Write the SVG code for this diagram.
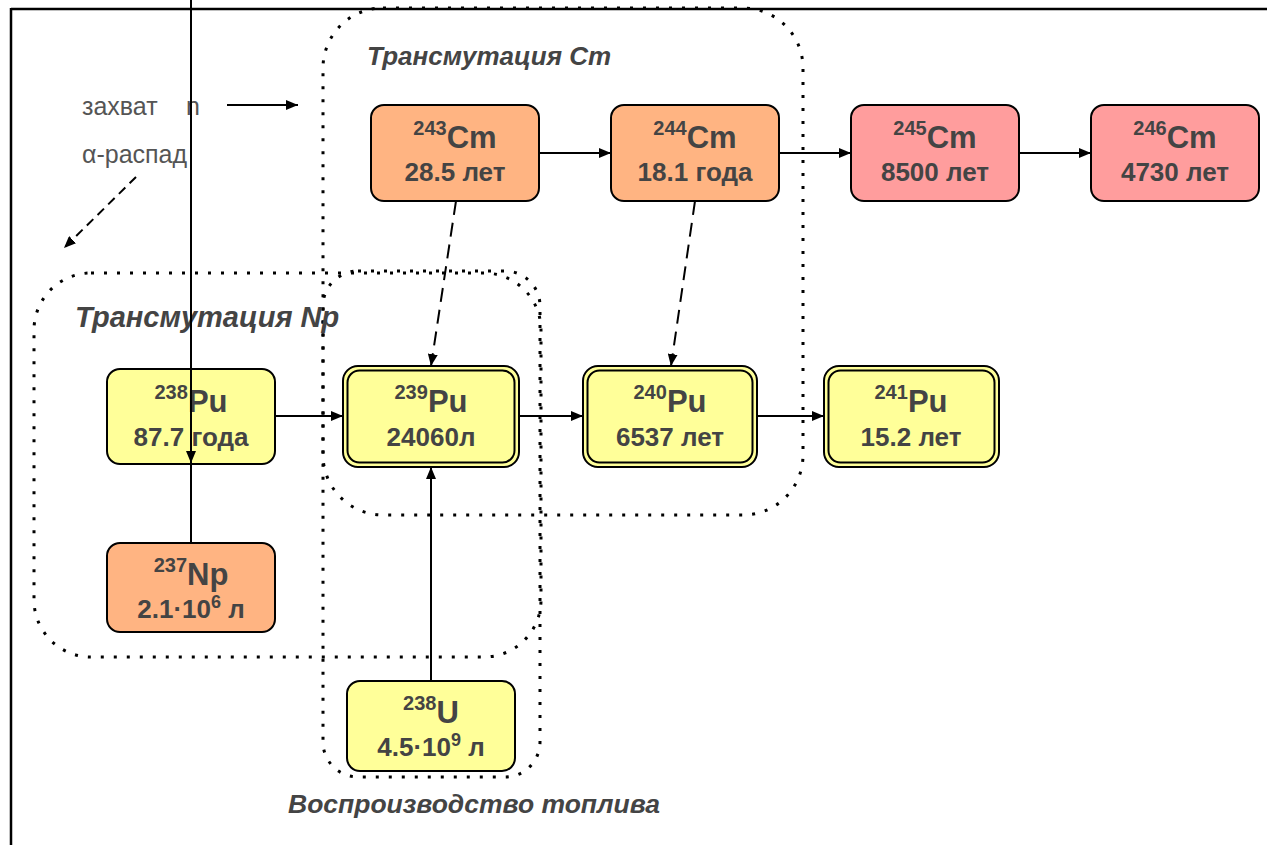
<svg xmlns="http://www.w3.org/2000/svg" width="1267" height="845" viewBox="0 0 1267 845">
<style>
  .node { stroke: #000; stroke-width: 2; }
  .peach { fill: #FFB482; }
  .pink { fill: #FF9D9D; }
  .yellow { fill: #FFFF99; }
  .inner { fill: none; stroke: #000; stroke-width: 2; }
  .lbl { font-family: "Liberation Sans", Arial, sans-serif; font-weight: bold; fill: #444; text-anchor: middle; }
  .sym { font-size: 31px; }
  .sup { font-size: 20px; }
  .life { font-size: 26px; }
  .sup2 { font-size: 18px; }
  .title { font-family: "Liberation Sans", Arial, sans-serif; font-weight: bold; font-style: italic; fill: #444; }
  .legend { font-family: "Liberation Sans", Arial, sans-serif; font-size: 25px; fill: #555; }
  .dots { fill: none; stroke: #000; stroke-width: 3; stroke-dasharray: 3 10; }
  .edge { fill: none; stroke: #000; stroke-width: 2; }
  .dash { stroke-dasharray: 14 8; }
  .dash2 { stroke-dasharray: 9 6; }
</style>
<defs>
  <marker id="ah" viewBox="0 0 12 10" refX="12" refY="5" markerWidth="12" markerHeight="10" markerUnits="userSpaceOnUse" orient="auto">
    <path d="M0,0 L12,5 L0,10 Z" fill="#000"/>
  </marker>
</defs>
<rect width="1267" height="845" fill="#fff"/>

<!-- frame -->
<g id="frame">
  <line x1="11" y1="9" x2="1267" y2="9" stroke="#000" stroke-width="2.5"/>
  <line x1="11" y1="8" x2="11" y2="845" stroke="#000" stroke-width="2.5"/>
</g>

<!-- dotted grouping areas -->
<g id="groups">
  <rect class="dots" x="323" y="8" width="480" height="507" rx="60"/>
  <rect class="dots" x="34" y="273" width="507" height="384" rx="57"/>
  <rect class="dots" x="323" y="271" width="217" height="506" rx="35"/>
  <text class="title" x="367" y="65" font-size="26">Трансмутация Cm</text>
  <text class="title" x="75" y="327" font-size="29">Трансмутация Np</text>
  <text class="title" x="288" y="813" font-size="26.5">Воспроизводство топлива</text>
</g>

<!-- legend -->
<g id="legend">
  <text class="legend" x="82" y="115">захват</text>
  <text class="legend" x="186" y="115">n</text>
  <text class="legend" x="82" y="163">α-распад</text>
  <line class="edge" x1="227" y1="105" x2="298" y2="105" marker-end="url(#ah)"/>
  <line class="edge dash2" x1="136" y1="177" x2="64" y2="248" marker-end="url(#ah)"/>
</g>

<!-- nodes -->
<g id="cm243">
  <rect class="node peach" x="371" y="105" width="168" height="96" rx="13"/>
  <text class="lbl" x="455" y="148"><tspan class="sup" dy="-13">243</tspan><tspan class="sym" dy="13">Cm</tspan></text>
  <text class="lbl life" x="455" y="181">28.5 лет</text>
</g>
<g id="cm244">
  <rect class="node peach" x="611" y="105" width="168" height="96" rx="13"/>
  <text class="lbl" x="695" y="148"><tspan class="sup" dy="-13">244</tspan><tspan class="sym" dy="13">Cm</tspan></text>
  <text class="lbl life" x="695" y="181">18.1 года</text>
</g>
<g id="cm245">
  <rect class="node pink" x="851" y="105" width="168" height="96" rx="13"/>
  <text class="lbl" x="935" y="148"><tspan class="sup" dy="-13">245</tspan><tspan class="sym" dy="13">Cm</tspan></text>
  <text class="lbl life" x="935" y="181">8500 лет</text>
</g>
<g id="cm246">
  <rect class="node pink" x="1091" y="105" width="168" height="96" rx="13"/>
  <text class="lbl" x="1175" y="148"><tspan class="sup" dy="-13">246</tspan><tspan class="sym" dy="13">Cm</tspan></text>
  <text class="lbl life" x="1175" y="181">4730 лет</text>
</g>

<g id="pu238">
  <rect class="node yellow" x="107" y="369" width="168" height="95" rx="13"/>
  <text class="lbl" x="191" y="412"><tspan class="sup" dy="-13">238</tspan><tspan class="sym" dy="13">Pu</tspan></text>
  <text class="lbl life" x="191" y="446">87.7 года</text>
</g>
<g id="pu239">
  <rect class="node yellow" x="343" y="366" width="176" height="101" rx="15"/>
  <rect class="inner" x="347.5" y="370.5" width="167" height="92" rx="12"/>
  <text class="lbl" x="431" y="412"><tspan class="sup" dy="-13">239</tspan><tspan class="sym" dy="13">Pu</tspan></text>
  <text class="lbl life" x="431" y="446">24060л</text>
</g>
<g id="pu240">
  <rect class="node yellow" x="583" y="366" width="174" height="101" rx="15"/>
  <rect class="inner" x="587.5" y="370.5" width="165" height="92" rx="12"/>
  <text class="lbl" x="670" y="412"><tspan class="sup" dy="-13">240</tspan><tspan class="sym" dy="13">Pu</tspan></text>
  <text class="lbl life" x="670" y="446">6537 лет</text>
</g>
<g id="pu241">
  <rect class="node yellow" x="824" y="366" width="175" height="101" rx="15"/>
  <rect class="inner" x="828.5" y="370.5" width="166" height="92" rx="12"/>
  <text class="lbl" x="911" y="412"><tspan class="sup" dy="-13">241</tspan><tspan class="sym" dy="13">Pu</tspan></text>
  <text class="lbl life" x="911" y="446">15.2 лет</text>
</g>

<g id="np237">
  <rect class="node peach" x="107" y="543" width="168" height="89" rx="13"/>
  <text class="lbl" x="191" y="585"><tspan class="sup" dy="-13">237</tspan><tspan class="sym" dy="13">Np</tspan></text>
  <text class="lbl life" x="191" y="618">2.1·10<tspan class="sup2" dy="-10">6</tspan><tspan dy="10"> л</tspan></text>
</g>
<g id="u238">
  <rect class="node yellow" x="347" y="681" width="168" height="90" rx="13"/>
  <text class="lbl" x="431" y="723"><tspan class="sup" dy="-13">238</tspan><tspan class="sym" dy="13">U</tspan></text>
  <text class="lbl life" x="431" y="756">4.5·10<tspan class="sup2" dy="-10">9</tspan><tspan dy="10"> л</tspan></text>
</g>

<!-- connectors -->
<g id="connectors">
  <line class="edge" x1="539" y1="153" x2="611" y2="153" marker-end="url(#ah)"/>
  <line class="edge" x1="779" y1="153" x2="851" y2="153" marker-end="url(#ah)"/>
  <line class="edge" x1="1019" y1="153" x2="1091" y2="153" marker-end="url(#ah)"/>
  <line class="edge" x1="275" y1="416" x2="343" y2="416" marker-end="url(#ah)"/>
  <line class="edge" x1="519" y1="416" x2="583" y2="416" marker-end="url(#ah)"/>
  <line class="edge" x1="757" y1="416" x2="824" y2="416" marker-end="url(#ah)"/>
  <line class="edge" x1="431" y1="681" x2="431" y2="467" marker-end="url(#ah)"/>
  <line class="edge dash" x1="456" y1="201" x2="431" y2="366" marker-end="url(#ah)"/>
  <line class="edge dash" x1="695" y1="201" x2="671" y2="366" marker-end="url(#ah)"/>
  <line class="edge" x1="191" y1="0" x2="191" y2="463" marker-end="url(#ah)"/>
  <line class="edge" x1="191" y1="464" x2="191" y2="543"/>
</g>
</svg>
